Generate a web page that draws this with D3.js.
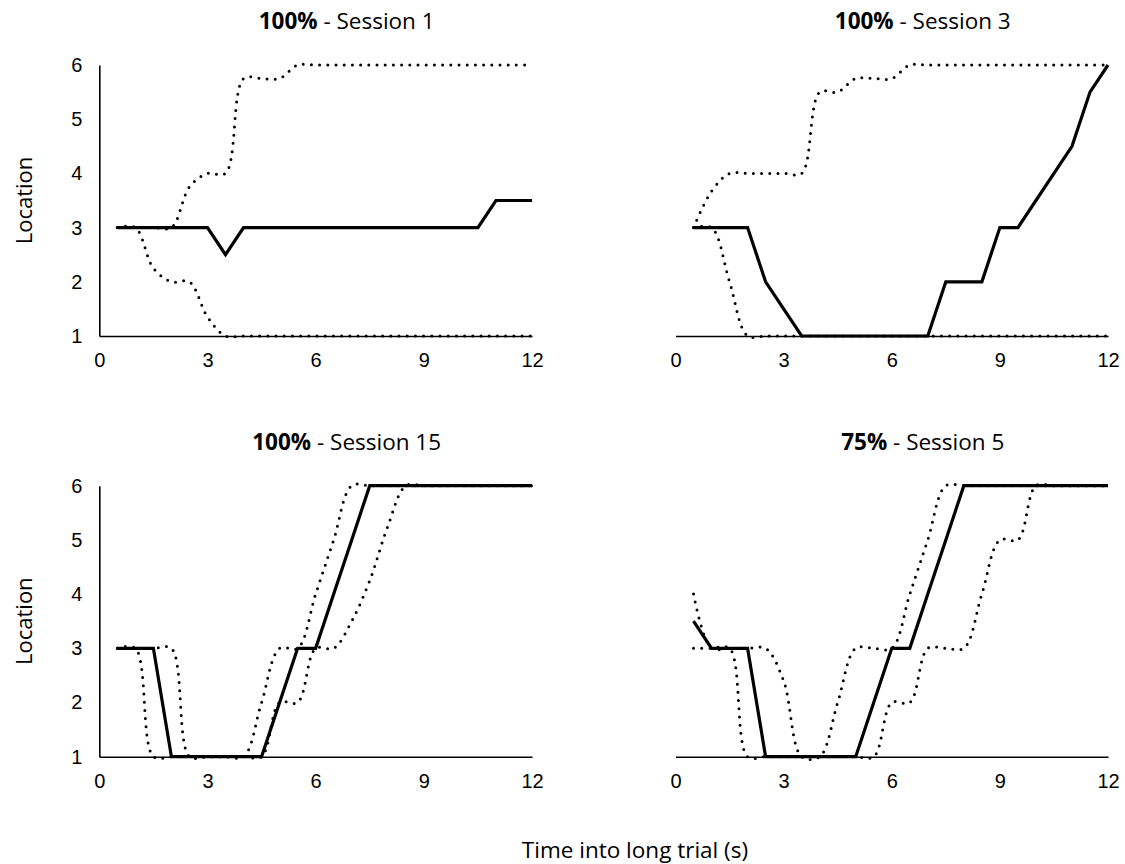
<!DOCTYPE html>
<html>
<head>
<meta charset="utf-8">
<script src="https://cdn.jsdelivr.net/npm/d3@7"></script>
<style>
  html, body { margin: 0; padding: 0; background: #fff; }
  svg { display: block; }
</style>
</head>
<body>
<script>
// Time points (s) and tick labels
const times = [0.5, 1, 1.5, 2, 2.5, 3, 3.5, 4, 4.5, 5, 5.5, 6, 6.5, 7, 7.5, 8, 8.5, 9, 9.5, 10, 10.5, 11, 11.5, 12];
const xTicks = [0, 3, 6, 9, 12];
const yTicks = [1, 2, 3, 4, 5, 6];

// 100% - Session 1
const s1Mean  = [3, 3, 3, 3, 3, 3, 2.5, 3, 3, 3, 3, 3, 3, 3, 3, 3, 3, 3, 3, 3, 3, 3.5, 3.5, 3.5];
const s1Upper = [3, 3, 3, 3, 3.75, 4, 4, 5.75, 5.75, 5.75, 6, 6, 6, 6, 6, 6, 6, 6, 6, 6, 6, 6, 6, 6];
const s1Lower = [3, 3, 2.25, 2, 2, 1.35, 1, 1, 1, 1, 1, 1, 1, 1, 1, 1, 1, 1, 1, 1, 1, 1, 1, 1];

// 100% - Session 3
const s3Mean  = [3, 3, 3, 3, 2, 1.5, 1, 1, 1, 1, 1, 1, 1, 1, 2, 2, 2, 3, 3, 3.5, 4, 4.5, 5.5, 6];
const s3Upper = [3, 3.67, 4, 4, 4, 4, 4, 5.5, 5.5, 5.75, 5.75, 5.75, 6, 6, 6, 6, 6, 6, 6, 6, 6, 6, 6, 6];
const s3Lower = [3, 3, 2, 1, 1, 1, 1, 1, 1, 1, 1, 1, 1, 1, 1, 1, 1, 1, 1, 1, 1, 1, 1, 1];

// 100% - Session 15
const s15Mean  = [3, 3, 3, 1, 1, 1, 1, 1, 1, 2, 3, 3, 4, 5, 6, 6, 6, 6, 6, 6, 6, 6, 6, 6];
const s15Upper = [3, 3, 3, 3, 1, 1, 1, 1, 2, 3, 3, 4, 5, 6, 6, 6, 6, 6, 6, 6, 6, 6, 6, 6];
const s15Lower = [3, 3, 1, 1, 1, 1, 1, 1, 1, 2, 2, 3, 3, 3.5, 4.25, 5.25, 6, 6, 6, 6, 6, 6, 6, 6];

// 75% - Session 5
const p75Mean  = [3.5, 3, 3, 3, 1, 1, 1, 1, 1, 1, 2, 3, 3, 4, 5, 6, 6, 6, 6, 6, 6, 6, 6, 6];
const p75Upper = [4, 3, 3, 3, 3, 2.4, 1, 1, 2, 3, 3, 3, 4, 5, 6, 6, 6, 6, 6, 6, 6, 6, 6, 6];
const p75Lower = [3, 3, 3, 1, 1, 1, 1, 1, 1, 1, 1, 2, 2, 3, 3, 3, 4, 5, 5, 6, 6, 6, 6, 6];

const panels = [
  { bold: '100%', rest: ' - Session 1',  mean: s1Mean,  upper: s1Upper,  lower: s1Lower,  col: 0, row: 0 },
  { bold: '100%', rest: ' - Session 3',  mean: s3Mean,  upper: s3Upper,  lower: s3Lower,  col: 1, row: 0 },
  { bold: '100%', rest: ' - Session 15', mean: s15Mean, upper: s15Upper, lower: s15Lower, col: 0, row: 1 },
  { bold: '75%',  rest: ' - Session 5',  mean: p75Mean, upper: p75Upper, lower: p75Lower, col: 1, row: 1 }
];

const width = 1125, height = 864;
const colX = [[99.3, 532], [675.5, 1108]];
const rowY = [[336, 65], [756.7, 485.7]];
const titleShift = 31;
const tickFont = '"Liberation Sans", Arial, sans-serif';
const labelFont = '"Open Sans", sans-serif';

const svg = d3.select('body').append('svg')
  .attr('width', width)
  .attr('height', height);

svg.append('rect').attr('width', width).attr('height', height).attr('fill', '#fff');

const solidLine = d3.line().curve(d3.curveLinear);
const smoothLine = d3.line().curve(d3.curveCatmullRom.alpha(0.5));

panels.forEach(p => {
  const x = d3.scaleLinear().domain([0, 12]).range(colX[p.col]);
  const y = d3.scaleLinear().domain([1, 6]).range(rowY[p.row]);
  const g = svg.append('g');

  // x axis, no tick marks
  const xAxis = g.append('g')
    .attr('transform', `translate(0,${y(1)})`)
    .call(d3.axisBottom(x).tickValues(xTicks).tickFormat(d3.format('d'))
      .tickSize(0).tickSizeOuter(0).tickPadding(17));
  xAxis.select('.domain').attr('stroke', '#000').attr('stroke-width', 1.6);
  xAxis.selectAll('text')
    .attr('font-family', tickFont)
    .attr('font-size', 20)
    .attr('fill', '#000');

  // y axis only for the left column
  if (p.col === 0) {
    const yAxis = g.append('g')
      .attr('transform', `translate(${x(0)},0)`)
      .call(d3.axisLeft(y).tickValues(yTicks).tickFormat(d3.format('d'))
        .tickSize(0).tickSizeOuter(0).tickPadding(17));
    yAxis.select('.domain').attr('stroke', '#000').attr('stroke-width', 1.6);
    yAxis.selectAll('text')
      .attr('font-family', tickFont)
      .attr('font-size', 20)
      .attr('fill', '#000');

    g.append('text')
      .attr('transform', `translate(32,${(y(1) + y(6)) / 2}) rotate(-90)`)
      .attr('text-anchor', 'middle')
      .attr('font-family', labelFont)
      .attr('font-size', 22)
      .attr('fill', '#000')
      .text('Location');
  }

  // dotted bounds
  [p.upper, p.lower].forEach(vals => {
    g.append('path')
      .attr('d', smoothLine(times.map((t, i) => [x(t), y(vals[i])])))
      .attr('fill', 'none')
      .attr('stroke', '#000')
      .attr('stroke-width', 3)
      .attr('stroke-linecap', 'round')
      .attr('stroke-dasharray', '0 8.2');
  });

  // mean trajectory
  g.append('path')
    .attr('d', solidLine(times.map((t, i) => [x(t), y(p.mean[i])])))
    .attr('fill', 'none')
    .attr('stroke', '#000')
    .attr('stroke-width', 3.2)
    .attr('stroke-linejoin', 'miter');

  // panel title
  const title = g.append('text')
    .attr('x', (x(0) + x(12)) / 2 + titleShift)
    .attr('y', y(6) - 36)
    .attr('text-anchor', 'middle')
    .attr('font-family', labelFont)
    .attr('font-size', 22.5)
    .attr('fill', '#000');
  title.append('tspan').attr('font-weight', 'bold').text(p.bold);
  title.append('tspan').text(p.rest);
});

svg.append('text')
  .attr('x', 635)
  .attr('y', 858)
  .attr('text-anchor', 'middle')
  .attr('font-family', labelFont)
  .attr('font-size', 22.5)
  .attr('fill', '#000')
  .text('Time into long trial (s)');
</script>
</body>
</html>
